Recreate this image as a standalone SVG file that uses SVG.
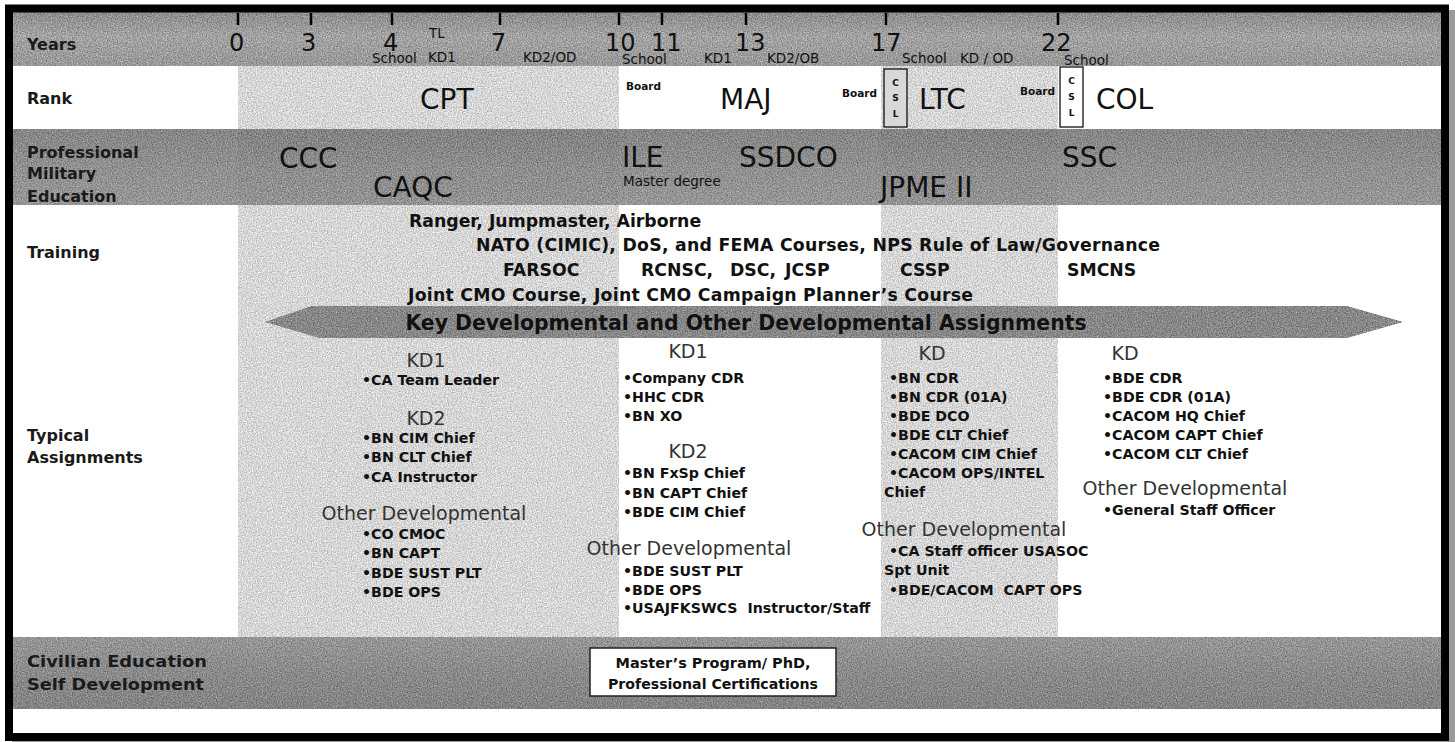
<svg xmlns="http://www.w3.org/2000/svg" width="1455" height="742" viewBox="0 0 1455 742">
<defs>
<filter id="tex" x="0" y="0" width="100%" height="100%" color-interpolation-filters="sRGB">
<feTurbulence type="fractalNoise" baseFrequency="0.8" numOctaves="2" seed="4" result="n"/>
<feColorMatrix in="n" type="matrix" values="1 0 0 0 0  1 0 0 0 0  1 0 0 0 0  0 0 0 0 1" result="g"/>
<feComposite in="SourceGraphic" in2="g" operator="arithmetic" k1="0" k2="1" k3="0.5" k4="-0.25" result="c"/>
<feComposite in="c" in2="SourceGraphic" operator="in"/>
</filter>
<linearGradient id="gYears" x1="0" y1="0" x2="0" y2="1">
<stop offset="0" stop-color="#8c8c8c"/><stop offset="0.45" stop-color="#a3a3a3"/><stop offset="1" stop-color="#989898"/>
</linearGradient>
<linearGradient id="gPme" x1="0" y1="0" x2="0" y2="1">
<stop offset="0" stop-color="#7c7c7c"/><stop offset="0.55" stop-color="#888888"/><stop offset="1" stop-color="#8e8e8e"/>
</linearGradient>
<linearGradient id="gCiv" x1="0" y1="0" x2="0" y2="1">
<stop offset="0" stop-color="#8e8e8e"/><stop offset="0.5" stop-color="#828282"/><stop offset="1" stop-color="#7a7a7a"/>
</linearGradient>
<style>
text{font-family:"DejaVu Sans","Verdana",sans-serif;fill:#111}
.lbl{font-weight:bold;font-size:16px;fill:#1a1a1a}
.num{font-size:24px}
.sm{font-size:13.5px}
.big{font-size:28px}
.brd{font-weight:bold;font-size:10.5px}
.csl{font-weight:bold;font-size:9px;text-anchor:middle}
.tr{font-weight:bold;font-size:17.3px}
.key{font-weight:bold;font-size:20.4px;text-anchor:middle}
.hd{font-size:19px;fill:#333;text-anchor:middle}
.it{font-weight:bold;font-size:14.2px}
.civ{font-weight:bold;font-size:13.5px;text-anchor:middle}
.tick{stroke:#000;stroke-width:2.5}
</style>
</defs>

<rect x="0" y="0" width="1455" height="742" fill="#ffffff"/>
<rect x="12" y="10" width="1443" height="732" fill="#9a9a9a"/>
<rect x="9" y="8" width="1436" height="729" fill="#ffffff"/>

<g id="columns">
<rect x="238" y="65" width="381" height="572" fill="#d6d6d6" filter="url(#tex)"/>
<rect x="881" y="65" width="177" height="572" fill="#d6d6d6" filter="url(#tex)"/>
</g>

<g id="bands">
<rect x="9" y="12" width="1436" height="54" fill="url(#gYears)" filter="url(#tex)"/>
<rect x="9" y="129" width="1436" height="76" fill="url(#gPme)" opacity="0.92" filter="url(#tex)"/>
<rect x="9" y="637" width="1436" height="72" fill="url(#gCiv)" opacity="0.93" filter="url(#tex)"/>
</g>

<g id="years">
<line class="tick" x1="238" y1="13" x2="238" y2="25"/>
<line class="tick" x1="311" y1="13" x2="311" y2="25"/>
<line class="tick" x1="392" y1="13" x2="392" y2="25"/>
<line class="tick" x1="500" y1="13" x2="500" y2="25"/>
<line class="tick" x1="619" y1="13" x2="619" y2="25"/>
<line class="tick" x1="662" y1="13" x2="662" y2="25"/>
<line class="tick" x1="746" y1="13" x2="746" y2="25"/>
<line class="tick" x1="886" y1="13" x2="886" y2="25"/>
<line class="tick" x1="1058" y1="13" x2="1058" y2="25"/>
<text class="lbl" x="27" y="50">Years</text>
<text class="num" x="229" y="51">0</text>
<text class="num" x="301" y="51">3</text>
<text class="num" x="383" y="51">4</text>
<text class="num" x="491" y="51">7</text>
<text class="num" x="605" y="51">10</text>
<text class="num" x="651" y="51">11</text>
<text class="num" x="735" y="51">13</text>
<text class="num" x="871" y="51">17</text>
<text class="num" x="1041" y="51">22</text>
<text class="sm" x="429" y="38" font-size="11">TL</text>
<text class="sm" x="372" y="63">School</text>
<text class="sm" x="428" y="62">KD1</text>
<text class="sm" x="523" y="62">KD2/OD</text>
<text class="sm" x="622" y="64">School</text>
<text class="sm" x="704" y="63">KD1</text>
<text class="sm" x="767" y="63">KD2/OB</text>
<text class="sm" x="902" y="63">School</text>
<text class="sm" x="960" y="63">KD / OD</text>
<text class="sm" x="1064" y="65">School</text>
</g>

<g id="rank">
<text class="lbl" x="27" y="104">Rank</text>
<text class="big" x="420" y="109">CPT</text>
<text class="brd" x="626" y="90">Board</text>
<text class="big" x="720" y="109">MAJ</text>
<text class="brd" x="842" y="97">Board</text>
<rect x="884" y="69" width="23" height="58" fill="#d8d8d8" stroke="#111" stroke-width="1.3"/>
<text class="csl" x="895.5" y="86">C</text>
<text class="csl" x="895.5" y="101">S</text>
<text class="csl" x="895.5" y="117">L</text>
<text class="big" x="919" y="109">LTC</text>
<text class="brd" x="1020" y="95">Board</text>
<rect x="1060" y="67" width="23" height="60" fill="#ffffff" stroke="#111" stroke-width="1.3"/>
<text class="csl" x="1071.5" y="84">C</text>
<text class="csl" x="1071.5" y="100">S</text>
<text class="csl" x="1071.5" y="116">L</text>
<text class="big" x="1096" y="109">COL</text>
</g>

<g id="pme">
<text class="lbl" x="27" y="158">Professional</text>
<text class="lbl" x="27" y="179">Military</text>
<text class="lbl" x="27" y="202">Education</text>
<text class="big" x="279" y="168">CCC</text>
<text class="big" x="373" y="197">CAQC</text>
<text class="big" x="622" y="167">ILE</text>
<text class="sm" x="623" y="186" font-size="14">Master degree</text>
<text class="big" x="739" y="167">SSDCO</text>
<text class="big" x="880" y="197">JPME II</text>
<text class="big" x="1062" y="167">SSC</text>
</g>

<g id="training">
<text class="lbl" x="27" y="258">Training</text>
<text class="tr" x="409" y="227">Ranger, Jumpmaster, Airborne</text>
<text class="tr" x="476" y="251" textLength="684" lengthAdjust="spacing">NATO (CIMIC), DoS, and FEMA Courses, NPS Rule of Law/Governance</text>
<text class="tr" x="503" y="276">FARSOC</text>
<text class="tr" x="641" y="276">RCNSC,</text>
<text class="tr" x="730" y="276">DSC,</text>
<text class="tr" x="785" y="276">JCSP</text>
<text class="tr" x="900" y="276">CSSP</text>
<text class="tr" x="1067" y="276">SMCNS</text>
<text class="tr" x="408" y="301" textLength="565" lengthAdjust="spacing">Joint CMO Course, Joint CMO Campaign Planner’s Course</text>
</g>

<g id="key-arrow">
<polygon points="265,322 312,306 1347,306 1403,322 1347,338 320,338" fill="#878787" filter="url(#tex)"/>
<text class="key" x="746" y="330">Key Developmental and Other Developmental Assignments</text>
</g>

<g id="assignments">
<text class="lbl" x="27" y="441">Typical</text>
<text class="lbl" x="27" y="463">Assignments</text>
</g>

<g id="col-cpt">
<text class="hd" x="426" y="367">KD1</text>
<text class="it" x="362" y="385">•CA Team Leader</text>
<text class="hd" x="426" y="425">KD2</text>
<text class="it" x="362" y="443">•BN CIM Chief</text>
<text class="it" x="362" y="462">•BN CLT Chief</text>
<text class="it" x="362" y="482">•CA Instructor</text>
<text class="hd" x="424" y="520">Other Developmental</text>
<text class="it" x="362" y="539">•CO CMOC</text>
<text class="it" x="362" y="558">•BN CAPT</text>
<text class="it" x="362" y="578">•BDE SUST PLT</text>
<text class="it" x="362" y="597">•BDE OPS</text>
</g>

<g id="col-maj">
<text class="hd" x="688" y="358">KD1</text>
<text class="it" x="623" y="383">•Company CDR</text>
<text class="it" x="623" y="402">•HHC CDR</text>
<text class="it" x="623" y="421">•BN XO</text>
<text class="hd" x="688" y="458">KD2</text>
<text class="it" x="623" y="478">•BN FxSp Chief</text>
<text class="it" x="623" y="498">•BN CAPT Chief</text>
<text class="it" x="623" y="517">•BDE CIM Chief</text>
<text class="hd" x="689" y="555">Other Developmental</text>
<text class="it" x="623" y="576">•BDE SUST PLT</text>
<text class="it" x="623" y="595">•BDE OPS</text>
<text class="it" x="623" y="613" xml:space="preserve">•USAJFKSWCS  Instructor/Staff</text>
</g>

<g id="col-ltc">
<text class="hd" x="932" y="360">KD</text>
<text class="it" x="889" y="383">•BN CDR</text>
<text class="it" x="889" y="402">•BN CDR (01A)</text>
<text class="it" x="889" y="421">•BDE DCO</text>
<text class="it" x="889" y="440">•BDE CLT Chief</text>
<text class="it" x="889" y="459">•CACOM CIM Chief</text>
<text class="it" x="889" y="478">•CACOM OPS/INTEL</text>
<text class="it" x="884" y="497">Chief</text>
<text class="hd" x="964" y="536">Other Developmental</text>
<text class="it" x="889" y="556">•CA Staff officer USASOC</text>
<text class="it" x="884" y="575">Spt Unit</text>
<text class="it" x="889" y="595" xml:space="preserve">•BDE/CACOM  CAPT OPS</text>
</g>

<g id="col-col">
<text class="hd" x="1125" y="360">KD</text>
<text class="it" x="1103" y="383">•BDE CDR</text>
<text class="it" x="1103" y="402">•BDE CDR (01A)</text>
<text class="it" x="1103" y="421">•CACOM HQ Chief</text>
<text class="it" x="1103" y="440">•CACOM CAPT Chief</text>
<text class="it" x="1103" y="459">•CACOM CLT Chief</text>
<text class="hd" x="1185" y="495">Other Developmental</text>
<text class="it" x="1103" y="515">•General Staff Officer</text>
</g>

<g id="civilian">
<text class="lbl" x="27" y="667" textLength="180" lengthAdjust="spacingAndGlyphs">Civilian Education</text>
<text class="lbl" x="27" y="690" textLength="177" lengthAdjust="spacingAndGlyphs">Self Development</text>
<rect x="590" y="648" width="246" height="48" fill="#ffffff" stroke="#222" stroke-width="1.5"/>
<text class="civ" x="713" y="668" textLength="195" lengthAdjust="spacingAndGlyphs">Master’s Program/ PhD,</text>
<text class="civ" x="713" y="689" textLength="210" lengthAdjust="spacingAndGlyphs">Professional Certifications</text>
</g>

<rect id="frame" x="9" y="8.5" width="1436" height="728.5" fill="none" stroke="#000" stroke-width="8"/>
</svg>
